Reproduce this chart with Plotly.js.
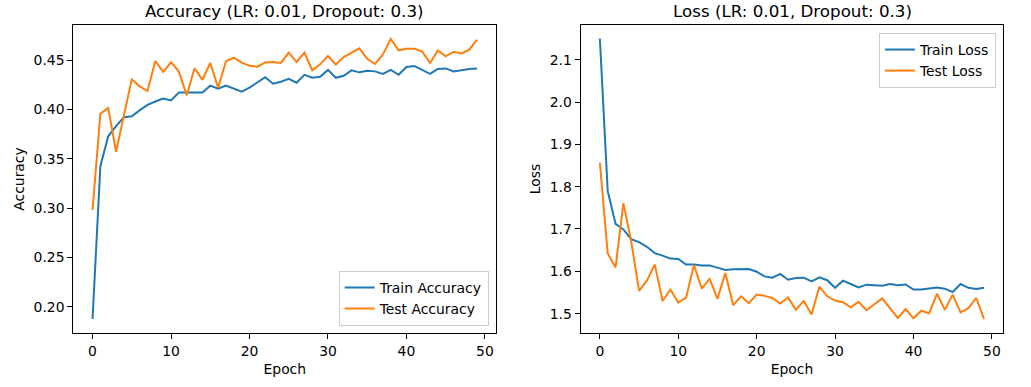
<!DOCTYPE html>
<html>
<head>
<meta charset="utf-8">
<script src="https://cdn.plot.ly/plotly-3.0.1.min.js"></script>
<style>html,body{margin:0;padding:0;background:#fff;}#chart{width:1031px;height:387px;}</style>
</head>
<body>
<div id="chart"></div>
<script>
const epochs = Array.from({length: 50}, (_, i) => i);

const trainAccuracy = [0.1875,0.3427,0.3727,0.383,0.392,0.393,0.399,0.4045,0.408,0.411,
  0.409,0.417,0.417,0.417,0.417,0.424,0.421,0.424,0.421,0.418,
  0.422,0.427,0.4325,0.426,0.428,0.431,0.427,0.435,0.432,0.433,
  0.440,0.432,0.434,0.4395,0.4375,0.439,0.4385,0.436,0.440,0.435,
  0.443,0.444,0.440,0.436,0.441,0.4415,0.4385,0.440,0.441,0.4415];

const testAccuracy = [0.298,0.3957,0.4014,0.357,0.394,0.4304,0.4233,0.4186,0.449,0.438,
  0.4476,0.4385,0.4142,0.4416,0.430,0.447,0.422,0.4487,0.4524,0.4473,
  0.4443,0.4433,0.4476,0.448,0.447,0.4574,0.448,0.4574,0.4395,0.4456,
  0.454,0.4453,0.453,0.4574,0.4618,0.4513,0.446,0.4557,0.4713,0.4598,
  0.4615,0.4615,0.4588,0.447,0.4598,0.4537,0.4584,0.4567,0.4605,0.4706];

const trainLoss = [2.150,1.790,1.712,1.699,1.676,1.669,1.658,1.643,1.637,1.630,
  1.629,1.616,1.616,1.614,1.614,1.609,1.603,1.605,1.6055,1.6055,
  1.599,1.588,1.585,1.594,1.580,1.584,1.585,1.576,1.586,1.579,
  1.561,1.578,1.570,1.562,1.5685,1.567,1.566,1.570,1.567,1.569,
  1.557,1.557,1.560,1.562,1.559,1.551,1.570,1.561,1.558,1.561];

const testLoss = [1.856,1.6425,1.609,1.761,1.670,1.554,1.578,1.6165,1.530,1.557,
  1.526,1.538,1.615,1.559,1.582,1.535,1.596,1.520,1.541,1.525,
  1.545,1.542,1.537,1.524,1.538,1.509,1.530,1.498,1.564,1.541,
  1.531,1.527,1.515,1.528,1.508,1.521,1.536,1.513,1.490,1.511,
  1.489,1.507,1.501,1.547,1.509,1.545,1.503,1.513,1.537,1.487];

const xTicks = [0,10,20,30,40,50];
const accTicks = [0.20,0.25,0.30,0.35,0.40,0.45];
const lossTicks = [1.5,1.6,1.7,1.8,1.9,2.0,2.1];

const titles = ["Accuracy (LR: 0.01, Dropout: 0.3)", "Loss (LR: 0.01, Dropout: 0.3)"];

const BLUE = '#1f77b4', ORANGE = '#ff7f0e';
const FONT = 'DejaVu Sans, sans-serif';
const FS = 13.9;

const traces = [
  {x: epochs, y: trainAccuracy, name: 'Train Accuracy', mode: 'lines', line: {color: BLUE, width: 2}, xaxis: 'x', yaxis: 'y', legend: 'legend'},
  {x: epochs, y: testAccuracy, name: 'Test Accuracy', mode: 'lines', line: {color: ORANGE, width: 2}, xaxis: 'x', yaxis: 'y', legend: 'legend'},
  {x: epochs, y: trainLoss, name: 'Train Loss', mode: 'lines', line: {color: BLUE, width: 2}, xaxis: 'x2', yaxis: 'y2', legend: 'legend2'},
  {x: epochs, y: testLoss, name: 'Test Loss', mode: 'lines', line: {color: ORANGE, width: 2}, xaxis: 'x2', yaxis: 'y2', legend: 'legend2'}
];

function xa(domain, anchor) {
  return {domain: domain, anchor: anchor, range: [-2.45, 51.45], tickvals: xTicks, ticktext: xTicks.map(String),
    ticks: 'outside', ticklen: 5, tickwidth: 1, tickcolor: '#000', showline: true, mirror: true,
    linecolor: '#000', linewidth: 1, showgrid: false, zeroline: false,
    tickfont: {family: FONT, size: FS, color: '#000'},
    title: {text: 'Epoch', font: {family: FONT, size: FS, color: '#000'}, standoff: 6}};
}
function ya(anchor, range, ticks, fmt, title) {
  return {anchor: anchor, domain: [0, 1], range: range, tickvals: ticks, ticktext: ticks.map(v => v.toFixed(fmt)),
    ticks: 'outside', ticklen: 5, tickwidth: 1, tickcolor: '#000', showline: true, mirror: true,
    linecolor: '#000', linewidth: 1, showgrid: false, zeroline: false,
    tickfont: {family: FONT, size: FS, color: '#000'},
    title: {text: title, font: {family: FONT, size: FS, color: '#000'}, standoff: 5}};
}

const legendStyle = {bgcolor: 'rgba(255,255,255,0.8)', bordercolor: '#cccccc', borderwidth: 1,
  font: {family: FONT, size: FS, color: '#000'}, tracegroupgap: 0, itemwidth: 30};

const layout = {
  width: 1031, height: 387,
  margin: {l: 0, r: 0, t: 25, b: 54},
  paper_bgcolor: '#fff', plot_bgcolor: '#fff',
  font: {family: FONT, color: '#000'},
  xaxis: xa([0.0711, 0.4814], 'y'),
  yaxis: ya('x', [0.1733, 0.4855], accTicks, 2, 'Accuracy'),
  xaxis2: xa([0.5632, 0.9731], 'y2'),
  yaxis2: ya('x2', [1.4543, 2.1819], lossTicks, 1, 'Loss'),
  legend: Object.assign({x: 0.474, y: 0.0227, xanchor: 'right', yanchor: 'bottom', xref: 'paper', yref: 'paper'}, legendStyle),
  legend2: Object.assign({x: 0.966, y: 0.974, xanchor: 'right', yanchor: 'top', xref: 'paper', yref: 'paper'}, legendStyle),
  annotations: [
    {text: titles[0], x: 0.2762, y: 1.0455, xref: 'paper', yref: 'paper', xanchor: 'center', yanchor: 'middle', showarrow: false, font: {family: FONT, size: 16.7, color: '#000'}},
    {text: titles[1], x: 0.7682, y: 1.0455, xref: 'paper', yref: 'paper', xanchor: 'center', yanchor: 'middle', showarrow: false, font: {family: FONT, size: 16.7, color: '#000'}}
  ],
  showlegend: true
};

Plotly.newPlot('chart', traces, layout, {displayModeBar: false, staticPlot: true});
</script>
</body>
</html>
